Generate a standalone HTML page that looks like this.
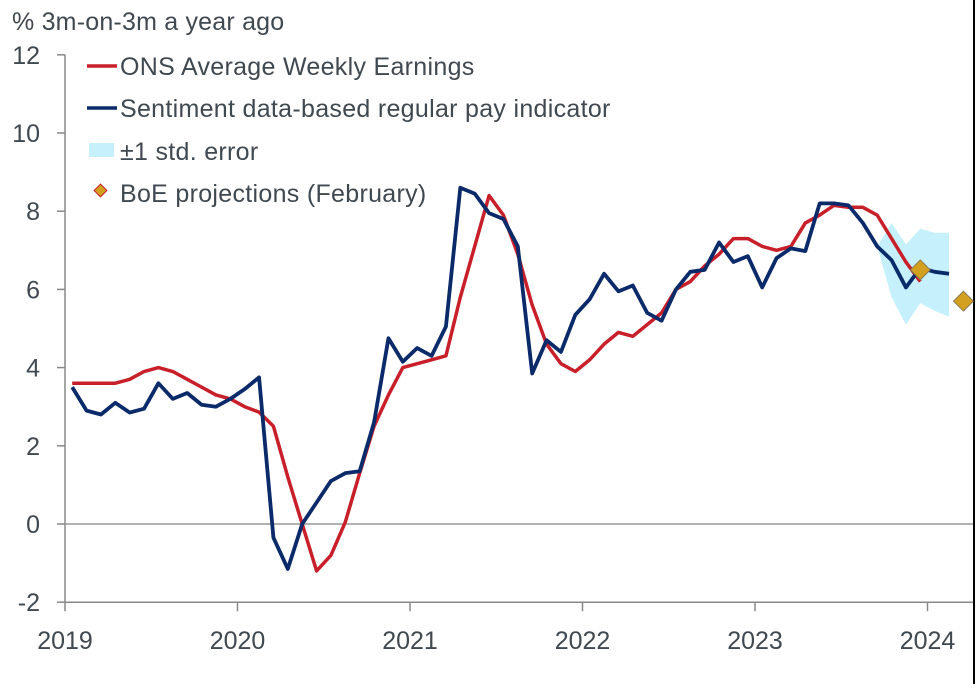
<!DOCTYPE html>
<html><head><meta charset="utf-8"><style>
body{margin:0;background:#fff;width:976px;height:684px;overflow:hidden}
svg{font-family:"Liberation Sans",sans-serif}
</style></head><body>
<svg id="chart" width="976" height="684">
<line x1="974" y1="0" x2="974" y2="684" stroke="#000" stroke-width="2"/>
<text x="12" y="30" font-size="25" letter-spacing="0.2" fill="#404850">% 3m-on-3m a year ago</text>
<g id="axes"></g>
<g id="marks"></g>
<g font-size="25" letter-spacing="0.3" fill="#404850">
<g><line x1="87" y1="66" x2="117" y2="66" stroke="#c8202a" stroke-width="3.5"/><text x="120" y="75">ONS Average Weekly Earnings</text></g>
<g><line x1="87" y1="108" x2="117" y2="108" stroke="#0b2a6a" stroke-width="3.5"/><text x="120" y="117">Sentiment data-based regular pay indicator</text></g>
<g><rect x="89" y="143" width="25" height="14" fill="#c6f1fc"/><text x="120" y="160">±1 std. error</text></g>
<g><rect x="96" y="186" width="9" height="9" fill="#d4a020" stroke="#c8202a" stroke-width="1" transform="rotate(45 100.5 190.5)"/><text x="120" y="202">BoE projections (February)</text></g>
</g>
</svg>
<script>
const yTicks=[-2,0,2,4,6,8,10,12];
const xYears=["2019","2020","2021","2022","2023","2024"];
const onsValues=[3.6,3.6,3.6,3.6,3.7,3.9,4.0,3.9,3.7,3.5,3.3,3.2,3.0,2.86,2.5,1.2,0.0,-1.2,-0.8,0.05,1.3,2.5,3.3,4.0,4.1,4.2,4.3,5.8,7.1,8.4,7.9,6.9,5.6,4.6,4.1,3.9,4.2,4.6,4.9,4.8,5.1,5.4,6.0,6.2,6.6,6.9,7.3,7.3,7.1,7.0,7.1,7.7,7.9,8.15,8.1,8.1,7.9,7.3,6.7,6.2];
const sentimentValues=[3.5,2.9,2.8,3.1,2.85,2.95,3.6,3.2,3.35,3.05,3.0,3.2,3.45,3.75,-0.35,-1.15,0.0,0.55,1.1,1.3,1.35,2.6,4.75,4.15,4.5,4.3,5.05,8.6,8.45,7.95,7.8,7.1,3.85,4.7,4.4,5.35,5.75,6.4,5.95,6.1,5.4,5.2,6.0,6.45,6.5,7.2,6.7,6.85,6.05,6.8,7.05,6.98,8.2,8.2,8.15,7.7,7.1,6.75,6.05,6.55,6.45,6.4];
const bandStart=56;
const bandUpper=[7.1,7.7,7.15,7.55,7.45,7.45];
const bandLower=[7.1,5.8,5.1,5.65,5.45,5.3];
const projIndex=[59,62];
const projValues=[6.5,5.7];
const NS="http://www.w3.org/2000/svg";
const x0=65,monthW=172.5/12;
function xs(i){return x0+(i+0.5)*monthW;}
function ys(v){return 524-v*39.1;}
function mk(t,a,p){const e=document.createElementNS(NS,t);for(const k in a)e.setAttribute(k,a[k]);p.appendChild(e);return e;}
const axes=document.getElementById('axes'),marks=document.getElementById('marks');
const ya=mk('line',{x1:x0,y1:ys(12),x2:x0,y2:ys(-2),stroke:'#888','stroke-width':1.5},axes);


yTicks.forEach(v=>{
 const t=mk('line',{x1:x0-8,y1:ys(v),x2:x0,y2:ys(v),stroke:'#888','stroke-width':1.5},axes);
 
 
 const l=mk('text',{x:40,y:ys(v)+9,'text-anchor':'end','font-size':25,fill:'#404850'},axes);
 l.textContent=v;
 
 
});
const z=mk('line',{x1:x0,y1:ys(0),x2:973,y2:ys(0),stroke:'#999','stroke-width':1.5},axes);


const xa=mk('line',{x1:x0,y1:ys(-2),x2:973,y2:ys(-2),stroke:'#888','stroke-width':1.5},axes);


xYears.forEach((y,k)=>{
 const x=x0+k*172.5;
 const t=mk('line',{x1:x,y1:ys(-2),x2:x,y2:ys(-2)+9,stroke:'#888','stroke-width':1.5},axes);
 
 
 const l=mk('text',{x:x,y:649,'text-anchor':'middle','font-size':25,fill:'#404850'},axes);
 l.textContent=y;
 
 
});
let pts=bandUpper.map((v,k)=>xs(bandStart+k)+','+ys(v));
for(let k=bandLower.length-1;k>=0;k--)pts.push(xs(bandStart+k)+','+ys(bandLower[k]));
const band=mk('polygon',{points:pts.join(' '),fill:'#c6f1fc'},marks);


const ons=mk('polyline',{points:onsValues.map((v,i)=>xs(i)+','+ys(v)).join(' '),fill:'none',stroke:'#c8202a','stroke-width':3.5,'stroke-linejoin':'round'},marks);


const sen=mk('polyline',{points:sentimentValues.map((v,i)=>xs(i)+','+ys(v)).join(' '),fill:'none',stroke:'#0b2a6a','stroke-width':3.8,'stroke-linejoin':'round'},marks);


projValues.forEach((v,k)=>{
 const cx=xs(projIndex[k]),cy=ys(v);
 const d=mk('rect',{x:cx-7,y:cy-7,width:14,height:14,fill:'#d4a020',stroke:'#8a7a50','stroke-width':1,transform:`rotate(45 ${cx} ${cy})`},marks);
 
 
});
</script>
</body></html>
